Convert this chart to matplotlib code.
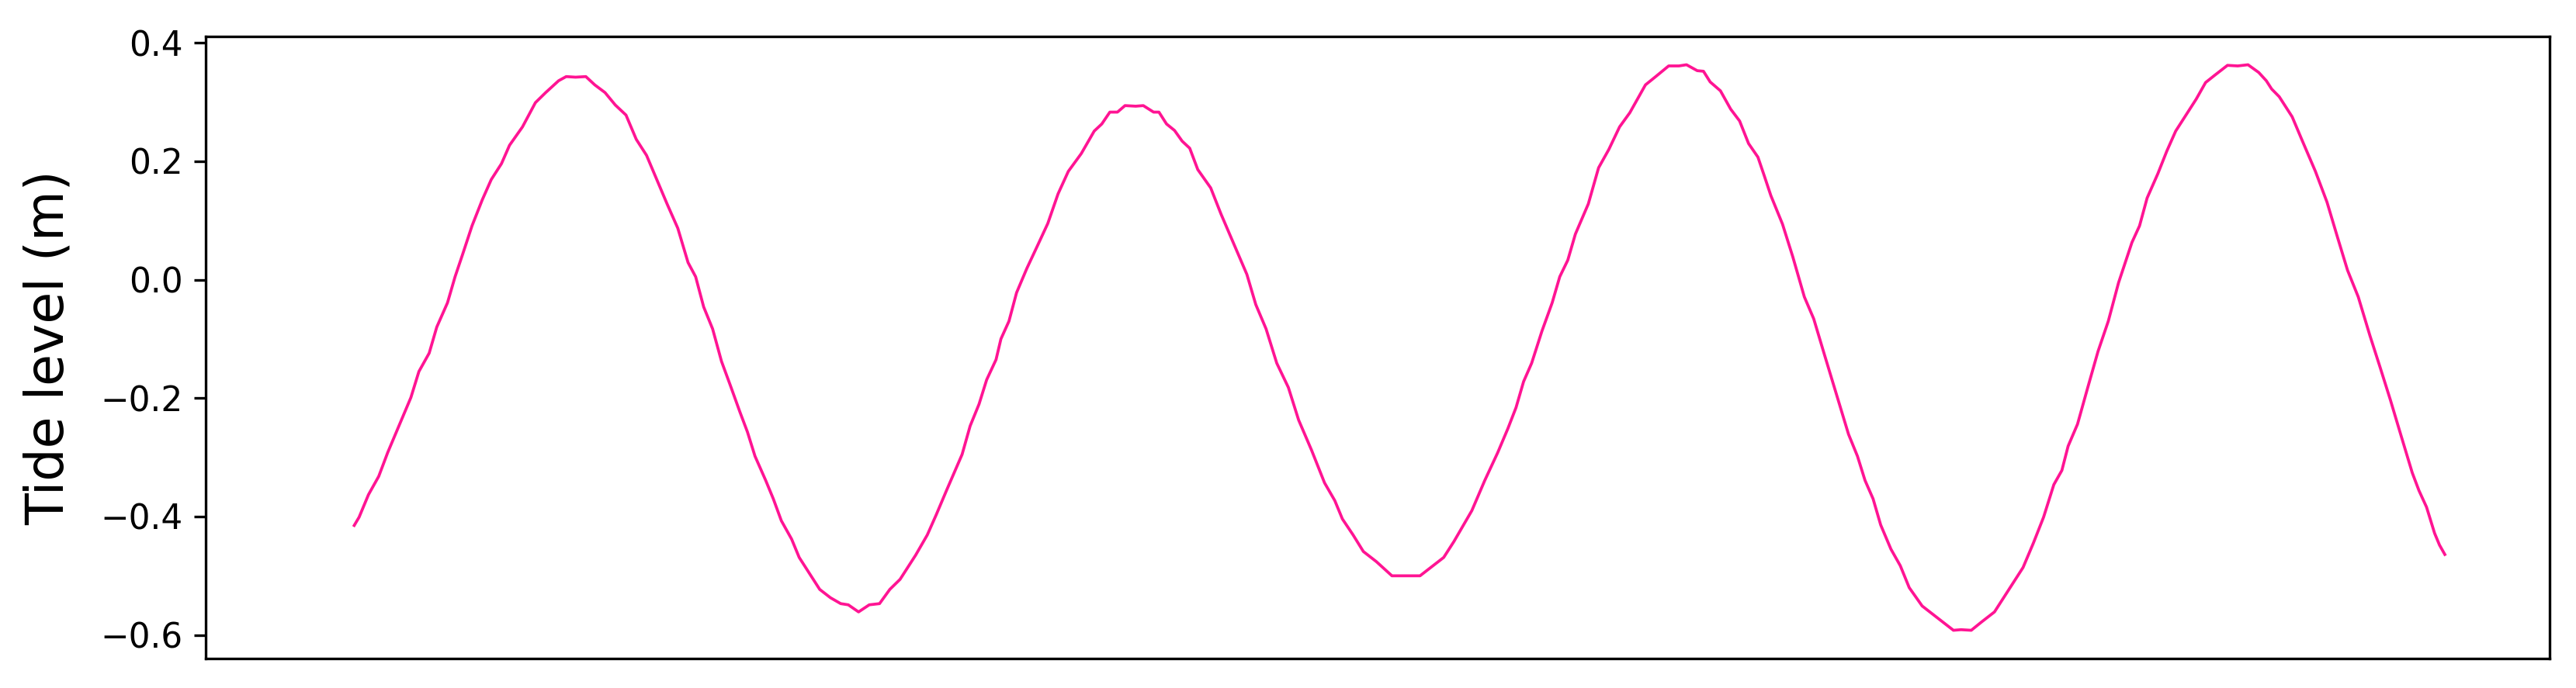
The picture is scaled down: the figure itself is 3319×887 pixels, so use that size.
import matplotlib
matplotlib.use("Agg")
import matplotlib.pyplot as plt

# time since start of record (hours) and tide level (m)
time_h = [
    0.00, 0.11, 0.32, 0.55, 0.75, 0.98, 1.27, 1.45, 1.68, 1.85,
    2.09, 2.26, 2.43, 2.64, 2.87, 3.07, 3.30, 3.48, 3.77, 4.06,
    4.29, 4.58, 4.75, 4.96, 5.19, 5.39, 5.62, 5.85, 6.09, 6.32,
    6.55, 6.78, 7.01, 7.25, 7.48, 7.65, 7.83, 8.03, 8.23, 8.43,
    8.64, 8.81, 8.98, 9.22, 9.39, 9.57, 9.80, 9.97, 10.20, 10.43,
    10.67, 10.90, 11.07, 11.30, 11.54, 11.77, 12.00, 12.23, 12.58, 12.84,
    13.04, 13.27, 13.62, 13.80, 14.00, 14.17, 14.38, 14.49, 14.67, 14.84,
    15.07, 15.30, 15.54, 15.77, 16.00, 16.29, 16.58, 16.75, 16.93, 17.10,
    17.27, 17.51, 17.68, 17.91, 18.03, 18.20, 18.38, 18.55, 18.72, 18.90,
    19.19, 19.42, 19.71, 20.00, 20.20, 20.43, 20.67, 20.93, 21.16, 21.45,
    21.74, 21.97, 22.14, 22.38, 22.61, 22.90, 23.25, 23.48, 23.88, 24.17,
    24.41, 24.64, 25.04, 25.33, 25.62, 25.85, 26.03, 26.20, 26.38, 26.61,
    26.84, 27.01, 27.19, 27.36, 27.65, 27.88, 28.11, 28.35, 28.58, 28.93,
    29.16, 29.45, 29.68, 29.85, 30.09, 30.23, 30.38, 30.61, 30.84, 31.04,
    31.24, 31.45, 31.59, 31.74, 32.00, 32.23, 32.49, 32.70, 32.93, 33.22,
    33.48, 33.68, 33.85, 34.03, 34.20, 34.43, 34.64, 34.84, 35.13, 35.42,
    35.83, 36.00, 36.23, 36.46, 36.75, 37.10, 37.39, 37.62, 37.85, 38.08,
    38.26, 38.40, 38.61, 38.84, 39.07, 39.30, 39.53, 39.71, 39.83, 40.00,
    40.17, 40.41, 40.61, 40.81, 41.04, 41.27, 41.48, 41.68, 41.97, 42.20,
    42.43, 42.67, 42.84, 42.96, 43.13, 43.42, 43.65, 43.94, 44.20, 44.43,
    44.66, 44.90, 45.16, 45.39, 45.62, 45.85, 46.11, 46.26, 46.43, 46.61,
    46.72, 46.84,
]
tide_level = [
    -0.415, -0.401, -0.363, -0.332, -0.292, -0.251, -0.199, -0.155, -0.124, -0.080,
    -0.039, 0.005, 0.043, 0.091, 0.135, 0.169, 0.196, 0.227, 0.258, 0.299,
    0.316, 0.336, 0.343, 0.342, 0.343, 0.329, 0.316, 0.295, 0.278, 0.237,
    0.210, 0.169, 0.128, 0.087, 0.029, 0.005, -0.046, -0.083, -0.138, -0.179,
    -0.223, -0.257, -0.298, -0.339, -0.370, -0.407, -0.438, -0.469, -0.496, -0.523,
    -0.537, -0.547, -0.549, -0.561, -0.549, -0.547, -0.523, -0.506, -0.465, -0.431,
    -0.397, -0.356, -0.295, -0.247, -0.210, -0.169, -0.135, -0.100, -0.070, -0.022,
    0.019, 0.056, 0.095, 0.145, 0.183, 0.213, 0.251, 0.263, 0.283, 0.283,
    0.294, 0.293, 0.294, 0.283, 0.283, 0.263, 0.252, 0.234, 0.222, 0.186,
    0.155, 0.111, 0.060, 0.009, -0.042, -0.083, -0.141, -0.182, -0.237, -0.288,
    -0.343, -0.373, -0.404, -0.431, -0.459, -0.476, -0.500, -0.500, -0.500, -0.483,
    -0.469, -0.442, -0.390, -0.339, -0.292, -0.251, -0.216, -0.172, -0.141, -0.087,
    -0.039, 0.005, 0.033, 0.077, 0.128, 0.189, 0.220, 0.258, 0.282, 0.329,
    0.343, 0.361, 0.361, 0.363, 0.353, 0.352, 0.334, 0.319, 0.288, 0.268,
    0.230, 0.207, 0.176, 0.142, 0.094, 0.039, -0.029, -0.066, -0.124, -0.196,
    -0.261, -0.298, -0.339, -0.370, -0.414, -0.455, -0.483, -0.520, -0.551, -0.568,
    -0.592, -0.591, -0.592, -0.578, -0.561, -0.520, -0.486, -0.445, -0.401, -0.346,
    -0.322, -0.281, -0.244, -0.182, -0.121, -0.070, -0.005, 0.036, 0.063, 0.091,
    0.138, 0.179, 0.217, 0.251, 0.278, 0.305, 0.333, 0.345, 0.362, 0.361,
    0.363, 0.350, 0.336, 0.322, 0.309, 0.275, 0.234, 0.183, 0.131, 0.073,
    0.016, -0.029, -0.094, -0.148, -0.203, -0.261, -0.326, -0.356, -0.384, -0.428,
    -0.448, -0.464,
]

fig = plt.figure(figsize=(3319 / 300, 887 / 300), dpi=300)
ax = fig.add_axes([0.0798, 0.0428, 0.9100, 0.9042])

ax.plot(time_h, tide_level, color='#FF1493', linewidth=0.9)

ax.set_xlim(-3.33, 49.19)
ax.set_xticks([])
ax.set_yticks([-0.6, -0.4, -0.2, 0.0, 0.2, 0.4])
ax.tick_params(axis='y', labelsize=10.5)
ax.set_ylabel('Tide level (m)', fontsize=16, labelpad=8)

fig.savefig('out.png', dpi=300)
